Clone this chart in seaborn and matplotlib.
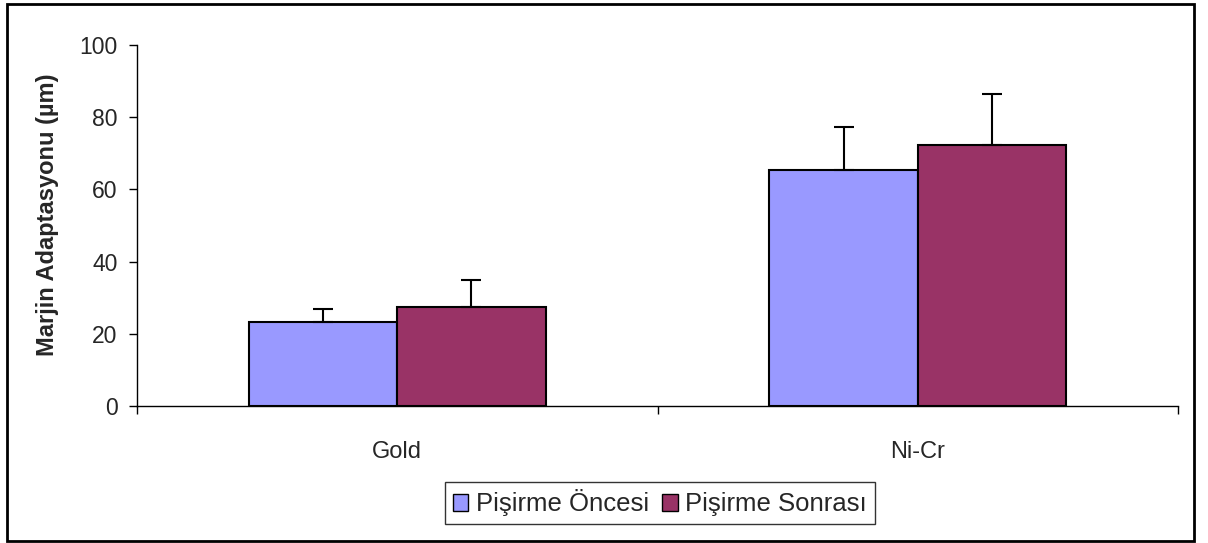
import matplotlib
matplotlib.use("Agg")
import matplotlib.pyplot as plt
import seaborn as sns
import pandas as pd
from matplotlib.patches import Rectangle

categories = ["Gold", "Ni-Cr"]
series = ["Pişirme Öncesi", "Pişirme Sonrası"]
once_vals = [23.2, 65.4]
sonra_vals = [27.4, 72.4]
once_sd = [3.7, 11.9]
sonra_sd = [7.6, 14.0]
colors = ["#9999FF", "#993366"]
ylabel = "Marjin Adaptasyonu (µm)"
yticks = [0, 20, 40, 60, 80, 100]

sns.set_theme(style="white")
plt.rcParams["font.family"] = ["Liberation Sans", "DejaVu Sans"]

df = pd.DataFrame({
    "cat": categories * 2,
    "series": [series[0]] * 2 + [series[1]] * 2,
    "val": once_vals + sonra_vals,
    "sd": once_sd + sonra_sd,
})

fig = plt.figure(figsize=(12.08, 5.43), dpi=100)
ax = fig.add_axes([137/1208, 1-406/543, (1178-137)/1208, (406-45)/543])

sns.barplot(data=df, x="cat", y="val", hue="series", order=categories,
            hue_order=series, palette=colors, width=0.57, errorbar=None,
            edgecolor="black", linewidth=1.5, saturation=1, ax=ax)

# error bars (upper only) at bar centers
for patch_group, sds in zip(ax.containers, [once_sd, sonra_sd]):
    xs = [p.get_x() + p.get_width() / 2 for p in patch_group]
    hs = [p.get_height() for p in patch_group]
    ax.errorbar(xs, hs, yerr=[[0] * len(sds), sds], fmt="none",
                ecolor="black", elinewidth=1.5, capsize=7, capthick=1.5, zorder=3)

ax.set_xlim(-0.5, 1.5)
ax.set_ylim(0, 100)
ax.set_yticks(yticks)
ax.set_xlabel("")
ax.set_ylabel(ylabel, fontsize=17, fontweight="bold")
ax.yaxis.set_label_coords((59 - 137) / (1178 - 137), 0.53)
ax.tick_params(axis="y", direction="out", length=6, width=1, labelsize=16.5, pad=8, left=True, color="black")
ax.tick_params(axis="x", which="major", length=0, labelsize=17, pad=25)
ax.set_xticks([-0.5, 0.5, 1.5], minor=True)
ax.tick_params(axis="x", which="minor", direction="out", length=6, width=1, bottom=True, color="black")
for s in ["top", "right"]:
    ax.spines[s].set_visible(False)
for s in ["left", "bottom"]:
    ax.spines[s].set_color("black")
    ax.spines[s].set_linewidth(1)
ax.grid(False)

ax.get_legend().remove()
handles = [Rectangle((0, 0), 1, 1, facecolor=c, edgecolor="black", linewidth=1) for c in colors]
leg = fig.legend(handles, series, loc="center", bbox_to_anchor=(660/1208, 1-503/543),
                 ncol=2, fontsize=18.5, frameon=True, fancybox=False, edgecolor="black",
                 handlelength=0.6, handleheight=0.6, handletextpad=0.3, columnspacing=0.5,
                 borderpad=0.3, borderaxespad=0)
leg.get_frame().set_linewidth(1)

fig.patches.append(Rectangle((7/1208, 1-541/543), 1187/1208, 537/543, transform=fig.transFigure,
                             fill=False, edgecolor="black", linewidth=2))

fig.savefig("out.png", dpi=100)
